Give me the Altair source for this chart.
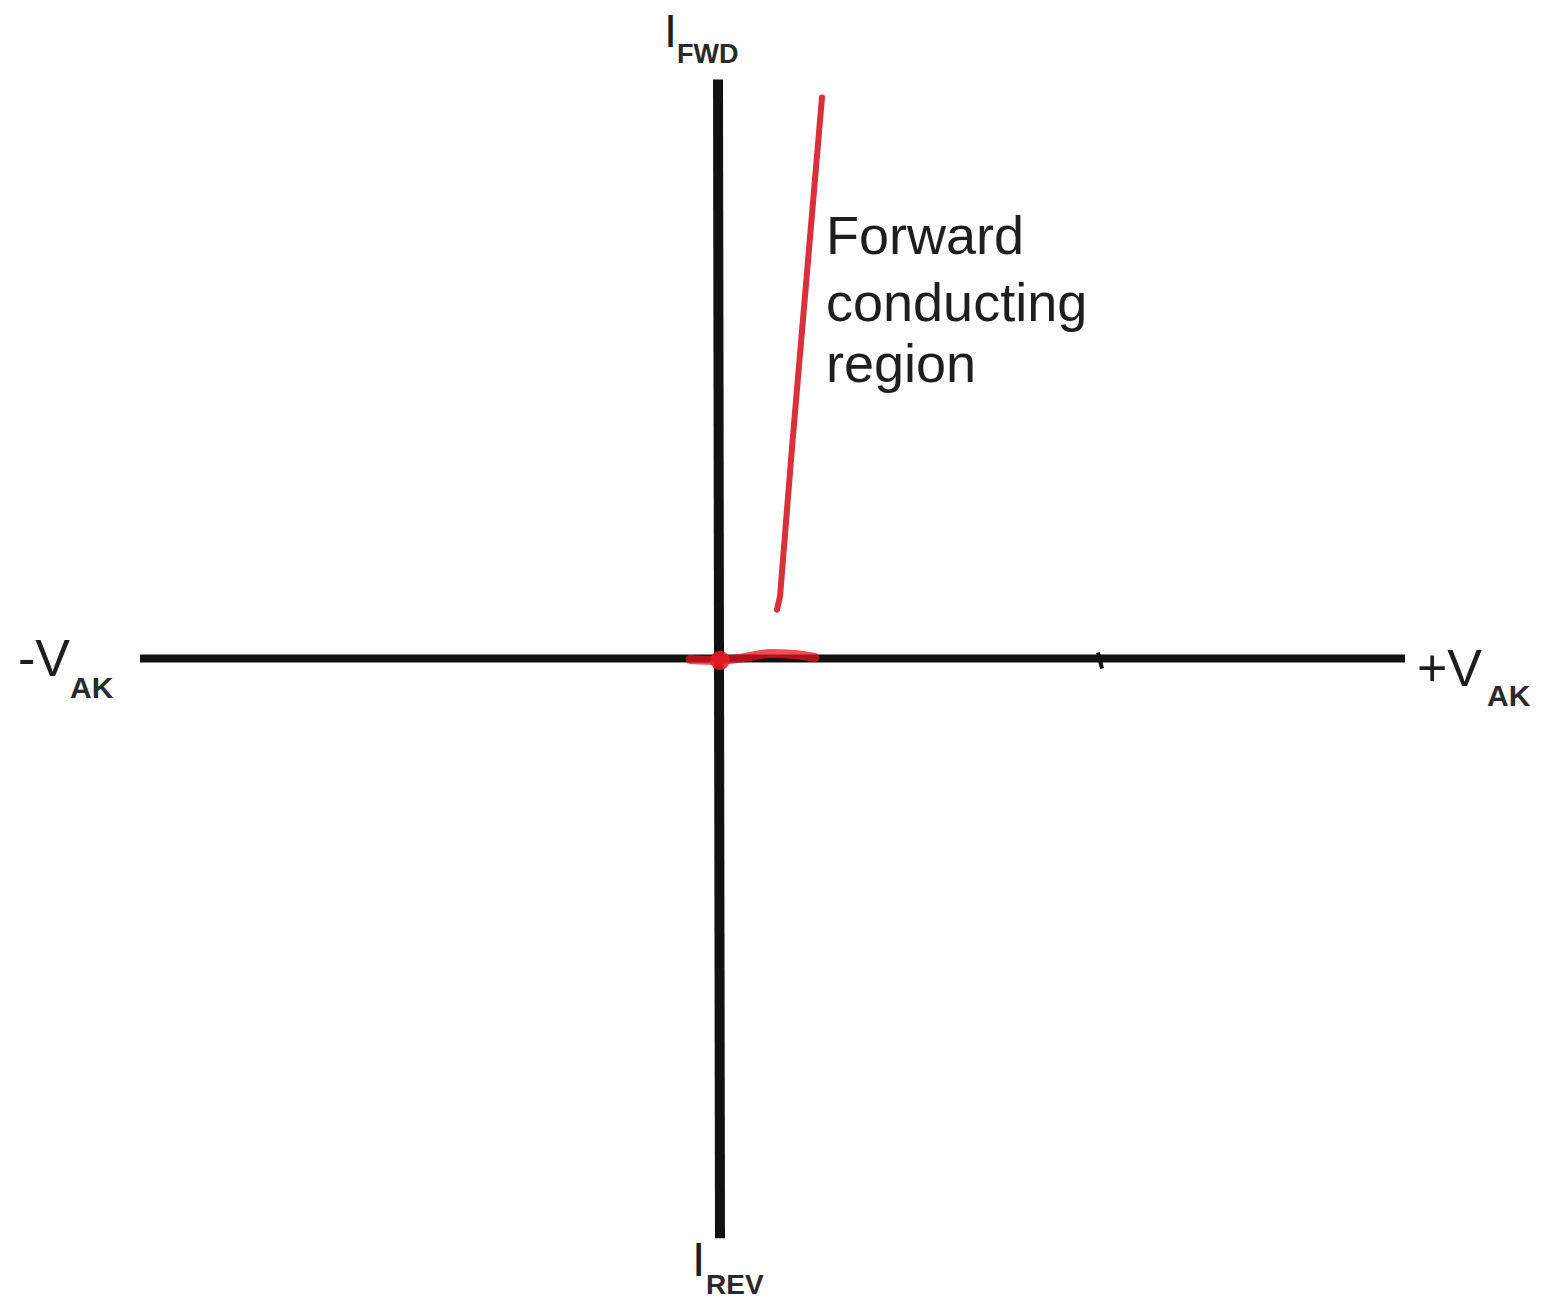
import altair as alt
import pandas as pd

# Axes of the I-V sketch (units: V_AK horizontally, I vertically, arbitrary)
h_axis_v = [-5.78, 6.87]
h_axis_i = [0.0, 0.0]
v_axis_v = [0.00, 0.02]
v_axis_i = [5.82, -5.83]

# small pen stroke on the +V axis
tick_v = [3.80, 3.84]
tick_i = [0.06, -0.10]

# Red forward characteristic: knee along the axis, then the steep rise
knee_v = [-0.28, 0.00, 0.27, 0.52, 0.77, 0.97]
knee_i = [-0.01, -0.02, 0.01, 0.05, 0.04, 0.01]
rise_v = [0.59, 0.62, 0.74, 1.04]
rise_i = [0.49, 0.62, 2.12, 5.64]
blob_v = [0.02]
blob_i = [-0.02]

# Main labels (normal weight)
label_text = ["I", "-V", "+V", "I", "Forward", "conducting", "region"]
label_v = [-0.54, -7.00, 6.99, -0.26, 1.08, 1.08, 1.08]
label_i = [6.15, -0.18, -0.28, -6.21, 4.07, 3.39, 2.78]
label_size = [47, 52, 52, 48, 54, 54, 54]

# Subscripts (bold)
sub_text = ["FWD", "AK", "AK", "REV"]
sub_v = [-0.41, -6.48, 7.69, -0.12]
sub_i = [5.99, -0.40, -0.48, -6.39]
sub_size = [27, 30, 30, 28]

XD = [-7.10, 8.33]
YD = [-6.38, 6.54]
xs = alt.Scale(domain=XD, nice=False, zero=False)
ys = alt.Scale(domain=YD, nice=False, zero=False)


def X(f):
    return alt.X(f, scale=xs, axis=None)


def Y(f):
    return alt.Y(f, scale=ys, axis=None)


axes_df = pd.DataFrame({
    "v": [h_axis_v[0], v_axis_v[0], tick_v[0]],
    "v2": [h_axis_v[1], v_axis_v[1], tick_v[1]],
    "i": [h_axis_i[0], v_axis_i[0], tick_i[0]],
    "i2": [h_axis_i[1], v_axis_i[1], tick_i[1]],
    "w": [8, 10, 4],
})

axes = alt.Chart(axes_df).mark_rule(color="#111111").encode(
    x=X("v:Q"), x2="v2:Q", y=Y("i:Q"), y2="i2:Q",
    strokeWidth=alt.StrokeWidth("w:Q", scale=None, legend=None),
)

knee_df = pd.DataFrame({"v": knee_v, "i": knee_i, "o": range(len(knee_v))})
knee = alt.Chart(knee_df).mark_line(color="#e8141e", strokeWidth=9,
                                    strokeCap="round", interpolate="monotone",
                                    opacity=0.75).encode(
    x=X("v:Q"), y=Y("i:Q"), order="o:Q",
)

blob_df = pd.DataFrame({"v": blob_v, "i": blob_i})
blob = alt.Chart(blob_df).mark_point(filled=True, shape="circle",
                                     color="#ec1c24", size=380,
                                     opacity=0.85).encode(
    x=X("v:Q"), y=Y("i:Q"),
)

rise_df = pd.DataFrame({"v": rise_v, "i": rise_i, "o": range(len(rise_v))})
rise = alt.Chart(rise_df).mark_line(color="#d9303a", strokeWidth=6,
                                    strokeCap="round").encode(
    x=X("v:Q"), y=Y("i:Q"), order="o:Q",
)

lab_df = pd.DataFrame({"t": label_text, "v": label_v, "i": label_i,
                       "s": label_size})
labels = alt.Chart(lab_df).mark_text(align="left", baseline="alphabetic",
                                     font="Liberation Sans",
                                     color="#1e1e1e").encode(
    x=X("v:Q"), y=Y("i:Q"),
    text="t:N",
    size=alt.Size("s:Q", scale=None, legend=None),
)

sub_df = pd.DataFrame({"t": sub_text, "v": sub_v, "i": sub_i,
                       "s": sub_size})
subs = alt.Chart(sub_df).mark_text(align="left", baseline="alphabetic",
                                   font="Liberation Sans", fontWeight="bold",
                                   color="#2a2a2a").encode(
    x=X("v:Q"), y=Y("i:Q"),
    text="t:N",
    size=alt.Size("s:Q", scale=None, legend=None),
)

chart = alt.layer(axes, knee, blob, rise, labels, subs).properties(
    width=1543, height=1292,
    autosize=alt.AutoSizeParams(type="fit", contains="padding"),
    padding=0,
    background="white",
).configure_view(stroke=None)

chart.save("out.html", embed_options={"renderer": "svg", "actions": False})
